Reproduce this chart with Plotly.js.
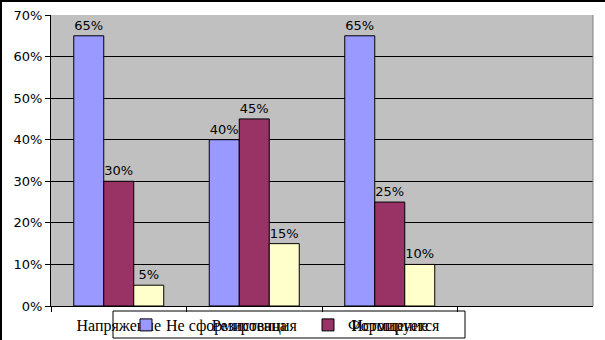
<!DOCTYPE html>
<html><head><meta charset="utf-8">
<script src="https://cdn.plot.ly/plotly-3.0.1.min.js"></script>
<style>body{margin:0;background:#fff}#c{width:605px;height:340px}</style>
</head><body><div id="c"></div>
<script>
const categories = ["Напряжение", "Резистенция", "Истощение"];
const seriesNames = ["Не сформирована", "Формируется", "Сформирована"];
const notFormed = [0.65, 0.40, 0.65];
const forming = [0.30, 0.45, 0.25];
const formed = [0.05, 0.15, 0.10];
const colors = ["#9999FF", "#993366", "#FFFFCC"];
const yTicks = [0, 0.1, 0.2, 0.3, 0.4, 0.5, 0.6, 0.7];

const L = 51, R = 593, T = 15, B = 306, W = 605, H = 340;
const pw = R - L, ph = B - T;
const px = v => (v - L) / pw;
const py = v => (B - v) / ph;

const vals = [notFormed, forming, formed];
const traces = vals.map((v, i) => ({
  type: 'bar', name: seriesNames[i], x: categories, y: v,
  marker: {color: colors[i], line: {color: '#000', width: 1}},
  text: v.map(d => Math.round(d * 100) + '%'),
  textposition: 'outside', constraintext: 'none', cliponaxis: false,
  textfont: {family: 'DejaVu Sans', size: 13, color: '#000'},
  showlegend: i < 2, hoverinfo: 'none'
}));

const layout = {
  width: W, height: H,
  margin: {l: L, r: W - R, t: T, b: H - B, autoexpand: false},
  paper_bgcolor: '#fff', plot_bgcolor: '#C0C0C0',
  barmode: 'group', bargap: 0.336, bargroupgap: 0,
  xaxis: {type: 'category', range: [-0.5, 3.5], categoryarray: categories,
    showgrid: false, showline: true, linecolor: '#000', linewidth: 1,
    ticks: 'outside', tickson: 'boundaries', ticklen: 5, tickcolor: '#000',
    ticklabelstandoff: 5,
    tickfont: {family: 'Liberation Serif, serif', size: 16, color: '#000'}, zeroline: false, fixedrange: true},
  yaxis: {range: [0, 0.7], tickvals: yTicks, tickformat: '.0%',
    showgrid: true, gridcolor: '#000', gridwidth: 1,
    showline: true, linecolor: '#000', linewidth: 1,
    ticks: 'outside', ticklen: 5, tickcolor: '#000', zeroline: false,
    tickfont: {family: 'DejaVu Sans', size: 13, color: '#000'}, fixedrange: true},
  legend: {orientation: 'h', x: px(126), xanchor: 'left', y: py(308), yanchor: 'top',
    bgcolor: 'rgba(0,0,0,0)', borderwidth: 0, entrywidth: 137,
    font: {family: 'Liberation Serif, serif', size: 16, color: '#000'}},
  shapes: [
    {type: 'line', xref: 'paper', yref: 'paper', x0: 1, x1: 1, y0: 0, y1: 1, line: {color: '#808080', width: 1}},
    {type: 'line', xref: 'paper', yref: 'paper', x0: px(0), x1: px(W), y0: py(1), y1: py(1), line: {color: '#000', width: 2}},
    {type: 'line', xref: 'paper', yref: 'paper', x0: px(1), x1: px(1), y0: py(0), y1: py(H), line: {color: '#000', width: 2}},
    {type: 'rect', xref: 'paper', yref: 'paper', x0: px(113), x1: px(465), y0: py(311), y1: py(338), line: {color: '#000', width: 1}, fillcolor: 'rgba(0,0,0,0)'}
  ]
};
Plotly.newPlot('c', traces, layout, {displayModeBar: false, staticPlot: true});
</script></body></html>
